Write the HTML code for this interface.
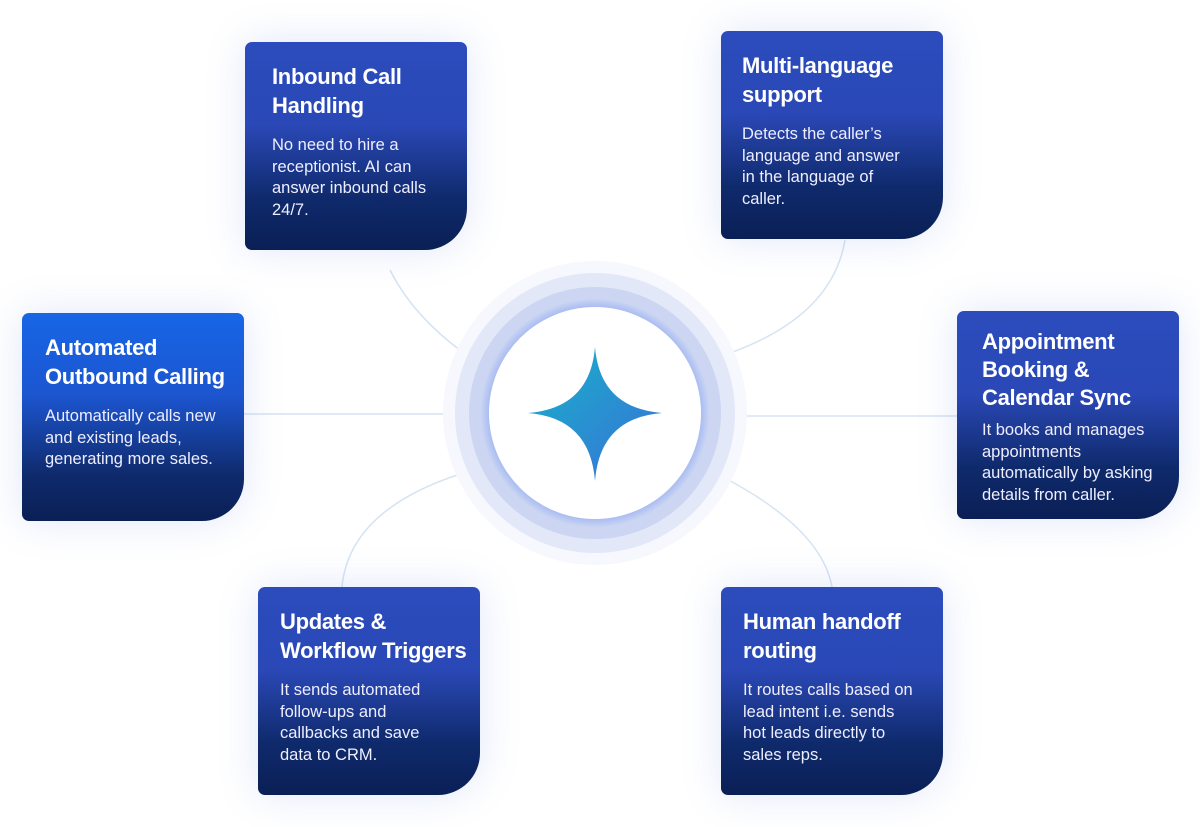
<!DOCTYPE html>
<html><head><meta charset="utf-8"><style>
body{margin:0;width:1200px;height:827px;background:#fff;position:relative;overflow:hidden;font-family:"Liberation Sans",sans-serif}
.c{position:absolute;width:222px;height:208px;border-radius:7px 7px 42px 7px;background:linear-gradient(180deg,#2c4cbd 0%,#2a48b6 40%,#0f2a6c 75%,#0a1f55 100%);color:#fff;box-shadow:0 0 40px rgba(90,120,230,.18);box-sizing:border-box;padding:20px 10px 0 27px}
.c h3{margin:0 0 15px;font-size:22px;line-height:29px;font-weight:bold;white-space:nowrap;letter-spacing:-.3px}
.c p{margin:0;font-size:16.5px;line-height:21.5px;color:#eef;white-space:nowrap}
.c.b{background:linear-gradient(180deg,#1766e6 0%,#1c55cf 40%,#0f2a6c 78%,#0a1f55 100%)}
</style></head><body>
<svg width="1200" height="827" style="position:absolute;left:0;top:0">
<defs><linearGradient id="s" x1="0" y1="0" x2="1" y2="1"><stop offset="0" stop-color="#17b3c9"/><stop offset="1" stop-color="#3a6fd8"/></linearGradient>
<radialGradient id="r"><stop offset=".83" stop-color="#7d9cf0"/><stop offset="1" stop-color="#c9d4f3"/></radialGradient></defs>
<g fill="none" stroke="#d6e3f3" stroke-width="1.5">
<path d="M390 270 Q420 330 498 375"/>
<path d="M845 240 Q830 330 690 365"/>
<path d="M244 414 L487 414"/>
<path d="M703 416 L957 416"/>
<path d="M342 587 Q350 500 492 465"/>
<path d="M832 587 Q820 520 692 462"/>
</g>
<circle cx="595" cy="413" r="152" fill="#f6f8fe"/>
<circle cx="595" cy="413" r="140" fill="#e2e8f8"/>
<circle cx="595" cy="413" r="126" fill="#ccd6f2"/>
<circle cx="595" cy="413" r="114" fill="url(#r)"/>
<circle cx="595" cy="413" r="106" fill="#fff"/>
<path d="M595 347 Q600 408 662 413 Q600 418 595 481 Q590 418 528 413 Q590 408 595 347Z" fill="url(#s)"/>
</svg>
<div class="c" style="left:245px;top:42px"><h3>Inbound Call<br>Handling</h3><p>No need to hire a<br>receptionist. AI can<br>answer inbound calls<br>24/7.</p></div>
<div class="c" style="left:721px;top:31px;padding-left:21px"><h3>Multi-language<br>support</h3><p>Detects the caller’s<br>language and answer<br>in the language of<br>caller.</p></div>
<div class="c b" style="left:22px;top:313px;padding-left:23px"><h3>Automated<br>Outbound Calling</h3><p>Automatically calls new<br>and existing leads,<br>generating more sales.</p></div>
<div class="c" style="left:957px;top:311px;padding-left:25px;padding-top:17px"><h3 style="line-height:28px;margin-bottom:8px">Appointment<br>Booking &amp;<br>Calendar Sync</h3><p>It books and manages<br>appointments<br>automatically by asking<br>details from caller.</p></div>
<div class="c" style="left:258px;top:587px;padding-left:22px"><h3>Updates &amp;<br>Workflow Triggers</h3><p>It sends automated<br>follow-ups and<br>callbacks and save<br>data to CRM.</p></div>
<div class="c" style="left:721px;top:587px;padding-left:22px"><h3>Human handoff<br>routing</h3><p>It routes calls based on<br>lead intent i.e. sends<br>hot leads directly to<br>sales reps.</p></div>
</body></html>
